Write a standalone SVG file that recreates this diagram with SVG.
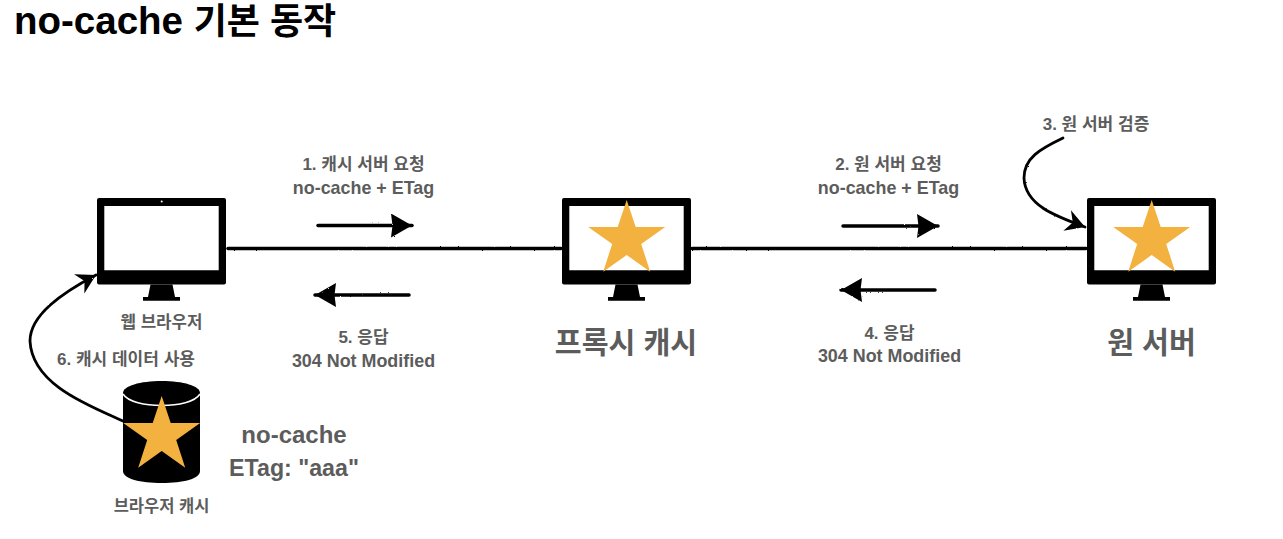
<svg xmlns="http://www.w3.org/2000/svg" width="1283" height="539" viewBox="0 0 1283 539">
<style>
text{font-family:"Liberation Sans","Noto Sans CJK KR",sans-serif;font-weight:700;fill:#5c5c5c;text-anchor:middle}
.e{font-size:17.900px}.h{font-size:17px}.l{font-size:29.200px}.k{font-size:24px}
.c{fill:none;stroke:#000;stroke-linecap:round;filter:url(#rough)}
.star{fill:#f3b13f}
</style>
<defs>
<filter id="rough" x="0" y="0" width="1283" height="539" filterUnits="userSpaceOnUse"><feTurbulence type="fractalNoise" baseFrequency="0.5" numOctaves="2" seed="3"/><feDisplacementMap in="SourceGraphic" scale="2"/></filter>
<marker id="a" markerUnits="userSpaceOnUse" markerWidth="24" markerHeight="28" refX="21" refY="12" orient="auto"><path d="M0 0 L21 12 L0 24 L1.500 12Z" fill="#000"/></marker>
<marker id="b" markerUnits="userSpaceOnUse" markerWidth="24" markerHeight="28" refX="20" refY="12" orient="auto"><path d="M1 1 L20 12 L1 23 L7 12Z" fill="#000"/></marker>
<g id="mon"><path d="M2 0H127a2 2 0 0 1 2 2V84.500a2 2 0 0 1-2 2H2a2 2 0 0 1-2-2V2a2 2 0 0 1 2-2ZM7.300 8V72.300H121.700V8Z" fill="#000" fill-rule="evenodd"/><path d="M53.500 86.500H75.500L78 99H83V102.800H46V99H51Z" fill="#000"/></g>
<polygon id="st" class="star" points="0,0 9,27 38.500,27 14.500,44 23.500,71.700 0,55 -23.500,71.700 -14.500,44 -38.500,27 -9,27"/>
</defs>
<text x="14" y="34" style="fill:#000;text-anchor:start"><tspan style="font-size:38.500px">no-cache </tspan><tspan style="font-size:36px">기본 동작</tspan></text>
<g id="connectors">
<path class="c" stroke-width="3.500" d="M228 248.500H561"/>
<path class="c" stroke-width="3.500" d="M692 248.500H1086"/>
<path class="c" stroke-width="3.500" marker-end="url(#a)" d="M318 225.500H412"/>
<path class="c" stroke-width="3.500" marker-end="url(#a)" d="M409 295H315"/>
<path class="c" stroke-width="3.500" marker-end="url(#a)" d="M843 226H938"/>
<path class="c" stroke-width="3.500" marker-end="url(#a)" d="M935 290H841"/>
<path class="c" stroke-width="2.800" marker-end="url(#b)" d="M1063 138C1040 149 1024 158 1024 178C1025 205 1055 216 1085 227"/>
<path class="c" stroke-width="2.800" marker-end="url(#b)" d="M123 421C90 406 32 385 30 341C30 315 62 293 96 275"/>
</g>
<g id="browser"><use href="#mon" x="97" y="198"/><circle cx="161.700" cy="201.500" r="1" fill="#fff"/><text x="161.500" y="328" style="font-size:16.800px">웹 브라우저</text></g>
<g id="proxy"><use href="#mon" x="562" y="198"/><use href="#st" x="626.700" y="200"/><text class="l" x="626" y="353">프록시 캐시</text></g>
<g id="origin"><use href="#mon" x="1087" y="198"/><use href="#st" x="1151.700" y="200"/><text class="l" x="1151.500" y="353">원 서버</text></g>
<g id="cache">
<path d="M123 393C123 386 140 381 161.700 381S200 386 200 393V471C200 479 183 483 161.700 483S123 479 123 471Z" fill="#000"/>
<path d="M123 394C128 402 145 405.500 161.700 405.500S195 402 200 394" fill="none" stroke="#fff" stroke-width="1.500"/>
<use href="#st" x="161.700" y="396"/>
<text x="161.500" y="512" style="font-size:16.500px">브라우저 캐시</text>
</g>
<g id="labels">
<text class="h" x="363.500" y="170">1. 캐시 서버 요청</text>
<text class="e" x="363.500" y="194">no-cache + ETag</text>
<text class="h" x="363.500" y="343">5. 응답</text>
<text class="e" x="363.500" y="367">304 Not Modified</text>
<text class="h" x="888.500" y="170">2. 원 서버 요청</text>
<text class="e" x="888.500" y="194">no-cache + ETag</text>
<text class="h" x="889.500" y="339">4. 응답</text>
<text class="e" x="889.500" y="362">304 Not Modified</text>
<text class="h" x="1096" y="130">3. 원 서버 검증</text>
<text class="h" x="126" y="365">6. 캐시 데이터 사용</text>
<text class="k" x="294" y="443">no-cache</text>
<text x="294" y="476" style="font-size:23.200px">ETag: "aaa"</text>
</g>
</svg>
